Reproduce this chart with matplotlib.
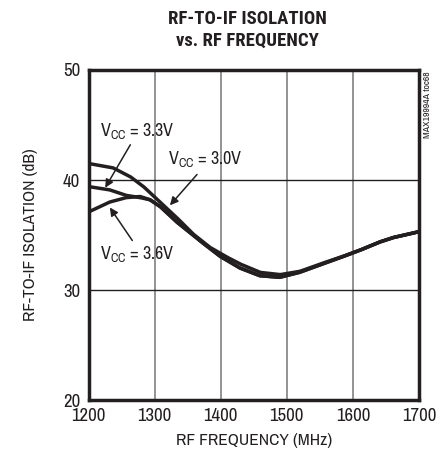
import matplotlib
matplotlib.use("Agg")
import matplotlib.pyplot as plt
import numpy as np
from matplotlib import font_manager

names = {f.name for f in font_manager.fontManager.ttflist}
fam = next((n for n in ('Archivo Narrow', 'Roboto Condensed', 'PT Sans Narrow') if n in names), 'DejaVu Sans')
tfam = next((n for n in ('Roboto Condensed', 'Archivo Narrow') if n in names), 'DejaVu Sans')
plt.rcParams['font.family'] = [fam, 'DejaVu Sans']
plt.rcParams['mathtext.fontset'] = 'custom'
plt.rcParams['mathtext.rm'] = fam

# RF frequency (MHz) and isolation (dB)
f30 = [1200, 1237, 1263, 1283, 1308, 1333, 1358, 1383, 1409, 1430, 1460, 1490, 1520, 1550, 1580, 1610, 1640, 1660, 1700]
v30 = [41.5, 41.1, 40.3, 39.4, 38.0, 36.6, 35.1, 33.9, 33.0, 32.35, 31.6, 31.4, 31.7, 32.35, 32.95, 33.6, 34.35, 34.75, 35.3]
f33 = [1200, 1232, 1257, 1278, 1293, 1308, 1333, 1368, 1398, 1429, 1459, 1489, 1519, 1549, 1579, 1610, 1640, 1660, 1700]
v33 = [39.4, 39.1, 38.6, 38.4, 38.2, 37.6, 36.2, 34.5, 33.1, 32.0, 31.3, 31.15, 31.6, 32.25, 32.9, 33.6, 34.35, 34.75, 35.3]
f36 = [1200, 1232, 1257, 1278, 1293, 1308, 1333, 1368, 1398, 1429, 1459, 1489, 1519, 1549, 1579, 1610, 1640, 1660, 1700]
v36 = [37.1, 38.0, 38.4, 38.5, 38.2, 37.6, 36.2, 34.5, 33.1, 32.0, 31.3, 31.15, 31.6, 32.25, 32.9, 33.6, 34.35, 34.75, 35.3]

fig = plt.figure(figsize=(4.48, 4.59), dpi=100)
ax = fig.add_axes([0.198, 0.1285, 0.737, 0.719])

for fx, vy in [(f30, v30), (f33, v33), (f36, v36)]:
    xs = np.linspace(fx[0], fx[-1], 300)
    ax.plot(xs, np.interp(xs, fx, vy), color='#231f20', lw=2.5, solid_capstyle='butt')

ax.set_xlim(1200, 1700)
ax.set_ylim(20, 50)
ax.set_xticks([1200, 1300, 1400, 1500, 1600, 1700])
ax.set_yticks([20, 30, 40, 50])
for x in [1300, 1400, 1500, 1600]:
    ax.axvline(x, color='#808080', lw=1.2, zorder=0)
for y in [30, 40]:
    ax.axhline(y, color='#231f20', lw=1.0, zorder=0)
for s in ax.spines.values():
    s.set_linewidth(2.5)
    s.set_color('#231f20')
ax.tick_params(length=0, pad=6, labelsize=13.5, colors='#231f20')

ax.set_xlabel('RF FREQUENCY (MHz)', fontsize=12.5, color='#231f20', labelpad=6)
ax.set_ylabel('RF-TO-IF ISOLATION (dB)', fontsize=12.5, color='#231f20', labelpad=18)
fig.text(0.553, 0.935, 'RF-TO-IF ISOLATION\nvs. RF FREQUENCY', ha='center', va='center',
         fontsize=13.5, fontweight='bold', family=[tfam, 'DejaVu Sans'], color='#231f20', linespacing=1.25)
fig.text(0.955, 0.845, 'MAX19994A toc68', rotation=90, ha='center', va='top', fontsize=7, color='#231f20')

arw = dict(arrowstyle='-|>', color='#231f20', lw=1.1, mutation_scale=12, shrinkA=0, shrinkB=0)
ax.annotate('', xy=(1225, 39.3), xytext=(1263, 43.2), arrowprops=arw)
ax.text(1273, 44.5, 'V$_{\\mathregular{CC}}$ = 3.3V', ha='center', va='center', fontsize=13, color='#231f20')
ax.annotate('', xy=(1323, 37.7), xytext=(1364, 40.5), arrowprops=arw)
ax.text(1377, 41.9, 'V$_{\\mathregular{CC}}$ = 3.0V', ha='center', va='center', fontsize=13, color='#231f20')
ax.annotate('', xy=(1232, 37.5), xytext=(1266, 34.5), arrowprops=arw)
ax.text(1273, 33.3, 'V$_{\\mathregular{CC}}$ = 3.6V', ha='center', va='center', fontsize=13, color='#231f20')

fig.savefig('out.png', dpi=100)
